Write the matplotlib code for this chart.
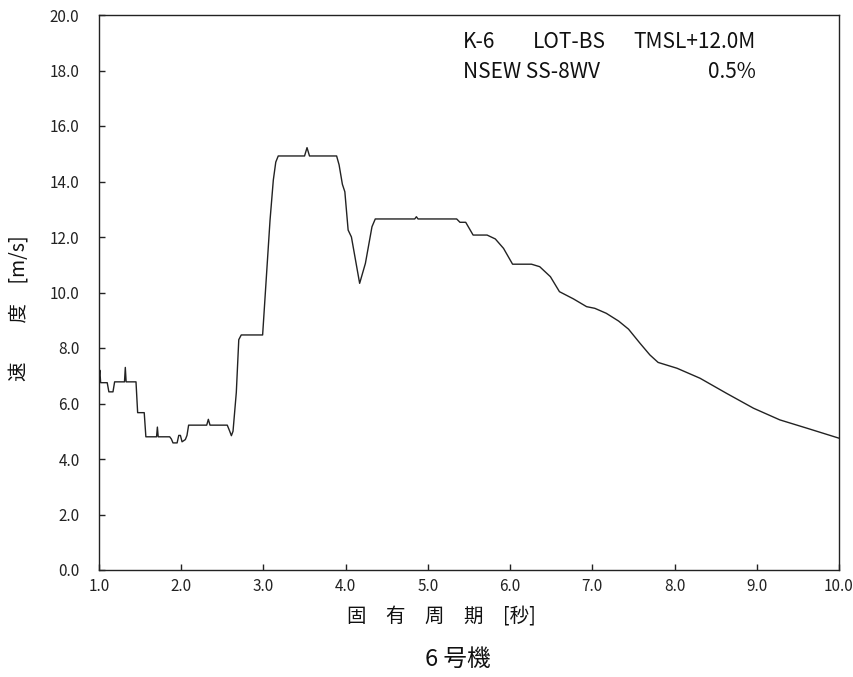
import matplotlib
matplotlib.use("Agg")
import matplotlib.pyplot as plt
from matplotlib.ticker import FixedLocator, FuncFormatter

plt.rcParams['font.family'] = ['Noto Sans CJK JP', 'DejaVu Sans']

# Period [s]
period = [1.00, 1.01, 1.02, 1.10, 1.12, 1.17, 1.19, 1.31, 1.32, 1.33, 1.45, 1.47,
          1.55, 1.57, 1.70, 1.71, 1.72, 1.86, 1.88, 1.90, 1.95, 1.97, 1.99, 2.01,
          2.05, 2.07, 2.09, 2.31, 2.33, 2.35, 2.56, 2.59, 2.61, 2.63, 2.67, 2.70,
          2.73, 2.99, 3.08, 3.12, 3.15, 3.18, 3.50, 3.53, 3.56, 3.89, 3.92, 3.96,
          3.99, 4.03, 4.07, 4.17, 4.24, 4.32, 4.36, 4.84, 4.86, 4.88, 5.35, 5.39,
          5.46, 5.55, 5.72, 5.82, 5.92, 6.03, 6.26, 6.36, 6.49, 6.60, 6.77, 6.93,
          7.03, 7.17, 7.32, 7.44, 7.58, 7.70, 7.80, 8.03, 8.31, 8.63, 8.96, 9.28,
          9.61, 10.00]
# Velocity [m/s]
velocity = [6.90, 7.20, 6.75, 6.75, 6.42, 6.42, 6.78, 6.78, 7.30, 6.78, 6.78, 5.67,
            5.67, 4.80, 4.80, 5.15, 4.80, 4.80, 4.72, 4.58, 4.58, 4.85, 4.85, 4.62,
            4.70, 4.85, 5.22, 5.22, 5.43, 5.22, 5.22, 5.00, 4.84, 5.00, 6.40, 8.30,
            8.47, 8.47, 12.60, 14.05, 14.70, 14.92, 14.92, 15.22, 14.92, 14.92, 14.60, 13.90,
            13.63, 12.25, 12.00, 10.33, 11.05, 12.37, 12.65, 12.65, 12.73, 12.65, 12.65, 12.53,
            12.53, 12.07, 12.07, 11.93, 11.59, 11.02, 11.02, 10.93, 10.57, 10.03, 9.77, 9.49,
            9.43, 9.25, 8.97, 8.68, 8.17, 7.75, 7.48, 7.27, 6.91, 6.37, 5.83, 5.41,
            5.11, 4.75]

x_ticks = [1.0, 2.0, 3.0, 4.0, 5.0, 6.0, 7.0, 8.0, 9.0, 10.0]
y_ticks = [0.0, 2.0, 4.0, 6.0, 8.0, 10.0, 12.0, 14.0, 16.0, 18.0, 20.0]

fig = plt.figure(figsize=(8.54, 6.77), dpi=100)
ax = fig.add_axes([99/854, 1 - 570/677, 740/854, 555/677])
ax.plot(period, velocity, color='#222222', lw=1.0)

ax.set_xlim(1.0, 10.0)
ax.set_ylim(0.0, 20.0)
ax.xaxis.set_major_locator(FixedLocator(x_ticks))
ax.yaxis.set_major_locator(FixedLocator(y_ticks))
fmt = FuncFormatter(lambda v, p: f"{v:.1f}")
ax.xaxis.set_major_formatter(fmt)
ax.yaxis.set_major_formatter(fmt)
ax.tick_params(axis='both', direction='in', length=4, width=1, labelsize=11, colors='#222222')
ax.tick_params(axis='y', pad=14)
ax.tick_params(axis='x', pad=6)
for s in ax.spines.values():
    s.set_color('#222222')
    s.set_linewidth(1.0)

# axis titles placed in figure pixels
fig.text(20/854, 1 - 308/677, '速　　度　[m/s]', rotation=90, ha='center', va='center',
         fontsize=14, color='#111111')
fig.text(441/854, 1 - 617/677, '固　有　周　期　[秒]', ha='center', va='center',
         fontsize=14, color='#111111')

# annotation block
tx = lambda px: (px - 99) / 740
ty = lambda py: (570 - py) / 555
kw = dict(transform=ax.transAxes, fontsize=15, va='center', color='#111111')
ax.text(tx(463), ty(42), 'K-6', ha='left', **kw)
ax.text(tx(533), ty(42), 'LOT-BS', ha='left', **kw)
ax.text(tx(756), ty(42), 'TMSL+12.0M', ha='right', **kw)
ax.text(tx(463), ty(72), 'NSEW SS-8WV', ha='left', **kw)
ax.text(tx(756), ty(72), '0.5%', ha='right', **kw)

fig.text(458/854, 1 - 659/677, '6 号機', ha='center', va='center', fontsize=17, color='#111111')

fig.savefig('out.png', dpi=100)
